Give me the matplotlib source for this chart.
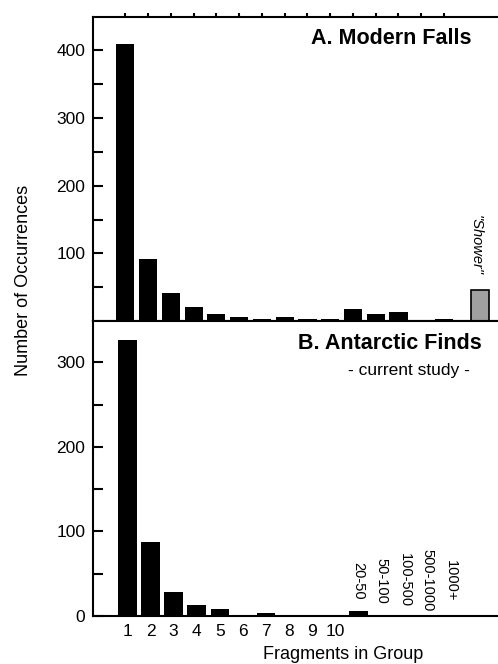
import matplotlib
matplotlib.use('Agg')
import matplotlib.pyplot as plt

plt.rcParams['font.family'] = ['Liberation Sans', 'DejaVu Sans']

# Panel A: modern falls, groups of 1..15 fragments plus a "shower" bar
falls_groups = list(range(1, 16))
falls_counts = [410, 91, 41, 21, 11, 5.5, 2.5, 5.5, 2.5, 2.5, 17, 11, 14, 1, 2.5]
shower_pos = 16.6
shower_count = 46

# Panel B: Antarctic finds
finds_groups = list(range(1, 16))
finds_counts = [327, 87, 28, 13, 8, 0, 3.5, 0, 0, 1, 6, 1, 0, 0, 0]
finds_ticklabels = ['1', '2', '3', '4', '5', '6', '7', '8', '9', '10']
finds_binlabels = ['20-50', '50-100', '100-500', '500-1000', '1000+']

fig = plt.figure(figsize=(4.98, 6.64), dpi=100)
ax1 = fig.add_axes([0.187, 0.5166, 0.82, 0.4574])
ax2 = fig.add_axes([0.187, 0.0723, 0.82, 0.4443])

lw = 1.5
for ax in (ax1, ax2):
    for s in ('left', 'bottom', 'top'):
        ax.spines[s].set_linewidth(lw)
    ax.spines['right'].set_visible(False)
    ax.tick_params(axis='y', direction='in', length=7, width=lw, labelsize=12.5, pad=5.5)
    ax.tick_params(axis='y', which='minor', direction='in', length=7, width=lw)

# top panel
ax1.bar(falls_groups, falls_counts, width=0.8, color='black')
ax1.bar([shower_pos], [shower_count], width=0.8, color='#a0a0a0', edgecolor='black', linewidth=1.2)
ax1.set_xlim(-0.418, 17.53)
ax1.set_ylim(0, 449)
ax1.set_yticks([100, 200, 300, 400])
ax1.set_yticks([50, 150, 250, 350], minor=True)
ax1.set_xticks(falls_groups)
ax1.tick_params(axis='x', bottom=False, labelbottom=False, top=True, direction='out',
                length=3, width=lw)
ax1.text(0.926, 0.93, 'A. Modern Falls', transform=ax1.transAxes, ha='right', va='center',
         fontsize=15.5, fontweight='bold')
ax1.text(16.4, 112, '"Shower"', rotation=270, ha='center', va='center', fontsize=10.5,
         style='italic')

# bottom panel
ax2.bar(finds_groups, finds_counts, width=0.8, color='black')
ax2.set_xlim(-0.485, 17.2)
ax2.set_ylim(0, 349)
ax2.set_yticks([0, 100, 200, 300])
ax2.set_yticks([50, 150, 250], minor=True)
ax2.set_xticks(finds_groups[:10])
ax2.set_xticklabels(finds_ticklabels)
ax2.tick_params(axis='x', length=0, labelsize=12.5, pad=6)
for pos, lab in zip(finds_groups[10:], finds_binlabels):
    ax2.text(pos, 42, lab, rotation=270, ha='center', va='center', fontsize=10.5)
ax2.text(0.951, 0.922, 'B. Antarctic Finds', transform=ax2.transAxes, ha='right', va='center',
         fontsize=15.5, fontweight='bold')
ax2.text(0.923, 0.833, '- current study -', transform=ax2.transAxes, ha='right', va='center',
         fontsize=12.5)

fig.text(0.689, 0.0136, 'Fragments in Group', ha='center', va='center', fontsize=13)
fig.text(0.047, 0.578, 'Number of Occurrences', rotation=90, ha='center', va='center',
         fontsize=13)

fig.savefig('out.png', dpi=100)
